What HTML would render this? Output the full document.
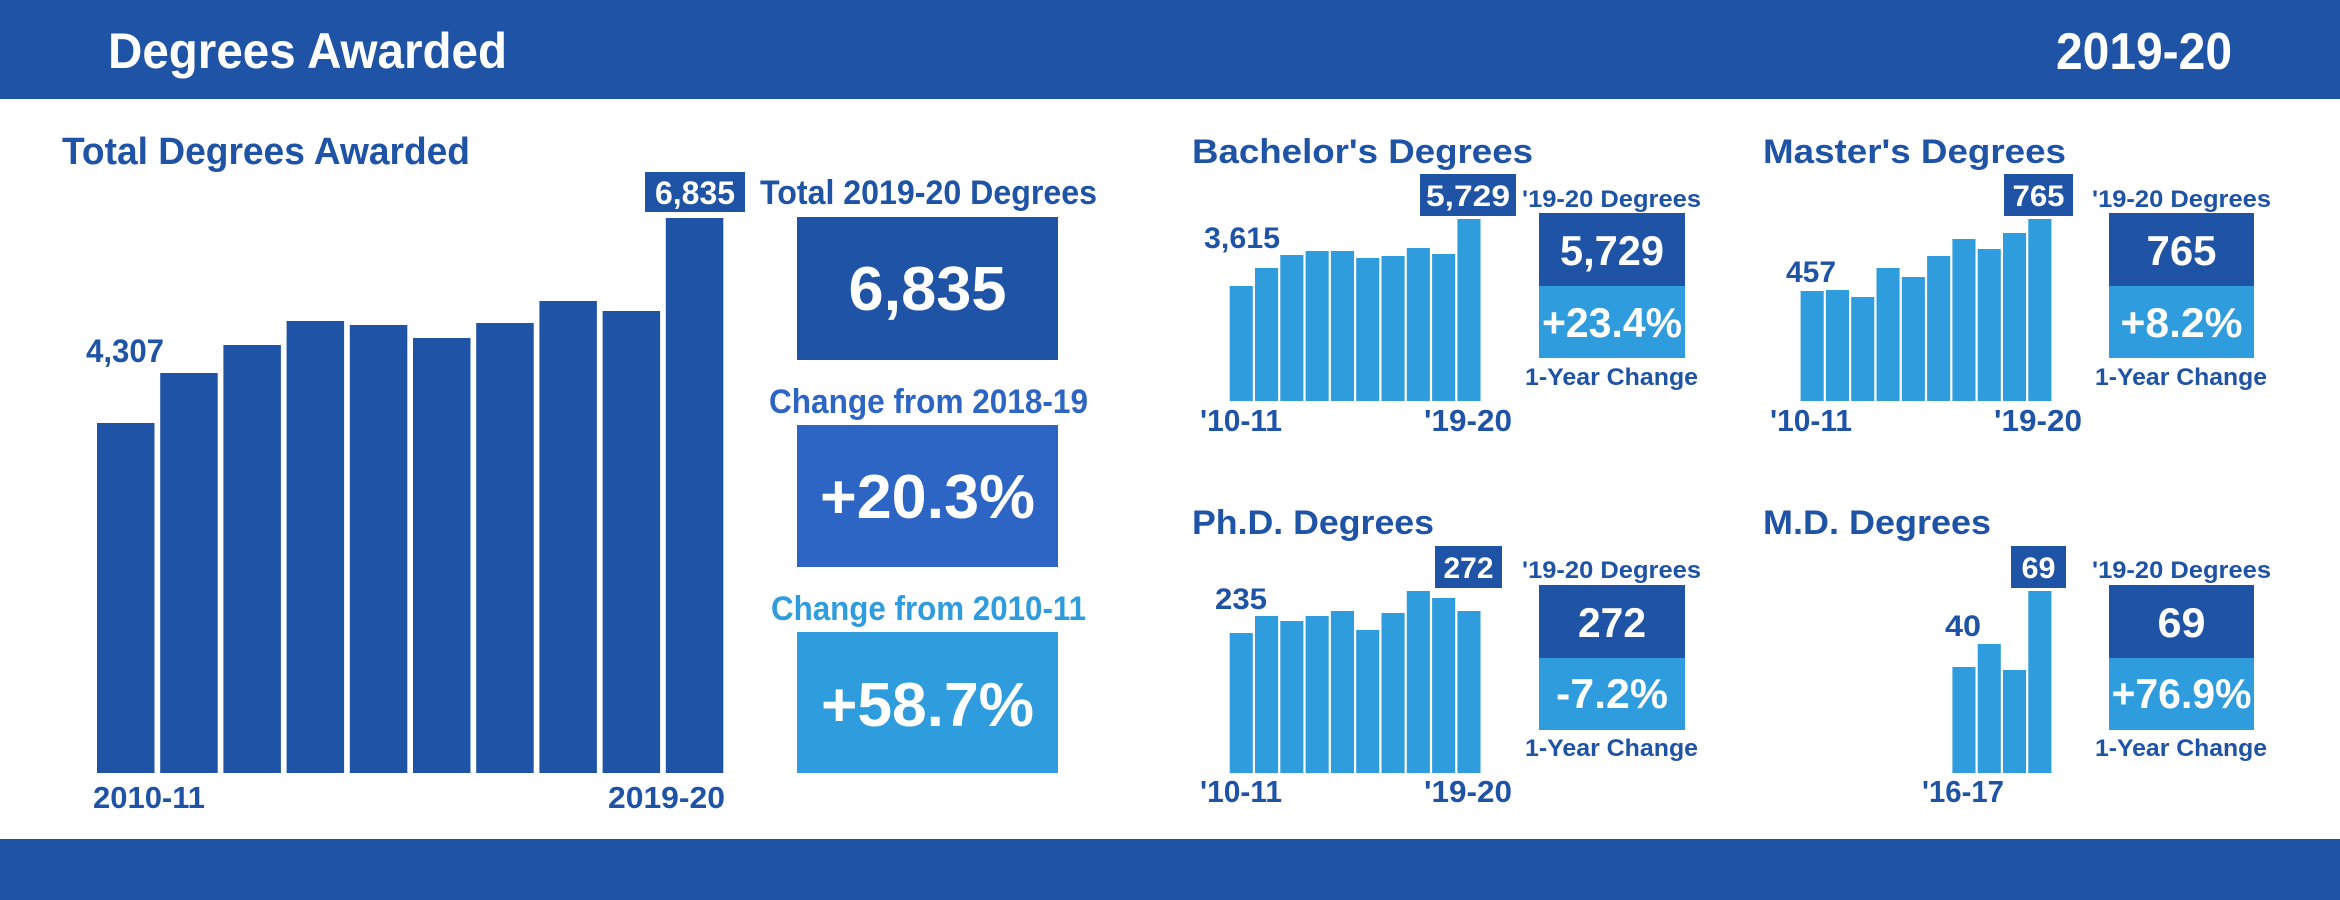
<!DOCTYPE html>
<html><head><meta charset="utf-8"><style>html,body{margin:0;padding:0;background:#fff}svg{display:block}text{font-family:"Liberation Sans",sans-serif;font-weight:bold}</style></head>
<body>
<svg width="2340" height="900" viewBox="0 0 2340 900" xmlns="http://www.w3.org/2000/svg">
<rect x="0" y="0" width="2340" height="99" fill="#1f53a6"/>
<rect x="0" y="839" width="2340" height="61" fill="#1f53a6"/>
<text x="108" y="68" font-size="50" fill="#fff" textLength="399" lengthAdjust="spacingAndGlyphs">Degrees Awarded</text>
<text x="2056" y="69" font-size="52" fill="#fff" textLength="176" lengthAdjust="spacingAndGlyphs">2019-20</text>

<!-- Total chart -->
<text x="62" y="164" font-size="38" fill="#1f53a6" textLength="408" lengthAdjust="spacingAndGlyphs">Total Degrees Awarded</text>
<g fill="#1f53a6">
<rect x="97" y="423" width="57.5" height="350"/>
<rect x="160.2" y="373" width="57.5" height="400"/>
<rect x="223.4" y="345" width="57.5" height="428"/>
<rect x="286.6" y="321" width="57.5" height="452"/>
<rect x="349.8" y="325" width="57.5" height="448"/>
<rect x="413" y="338" width="57.5" height="435"/>
<rect x="476.2" y="323" width="57.5" height="450"/>
<rect x="539.4" y="301" width="57.5" height="472"/>
<rect x="602.6" y="311" width="57.5" height="462"/>
<rect x="665.8" y="218" width="57.5" height="555"/>
<rect x="645" y="172" width="100" height="40"/>
</g>
<text x="86" y="362" font-size="32" fill="#1f53a6" textLength="78" lengthAdjust="spacingAndGlyphs">4,307</text>
<text x="695" y="204" font-size="32" fill="#fff" text-anchor="middle" textLength="80" lengthAdjust="spacingAndGlyphs">6,835</text>
<text x="93" y="808" font-size="31" fill="#1f53a6" textLength="112" lengthAdjust="spacingAndGlyphs">2010-11</text>
<text x="608" y="808" font-size="31" fill="#1f53a6" textLength="117" lengthAdjust="spacingAndGlyphs">2019-20</text>

<text x="760" y="204" font-size="34" fill="#1f53a6" textLength="337" lengthAdjust="spacingAndGlyphs">Total 2019-20 Degrees</text>
<rect x="797" y="217" width="261" height="143" fill="#1f53a6"/>
<text x="927.5" y="310" font-size="62" fill="#fff" text-anchor="middle" textLength="158" lengthAdjust="spacingAndGlyphs">6,835</text>
<text x="769" y="413" font-size="34" fill="#2d65c4" textLength="319" lengthAdjust="spacingAndGlyphs">Change from 2018-19</text>
<rect x="797" y="425" width="261" height="142" fill="#2d65c4"/>
<text x="927.5" y="518" font-size="62" fill="#fff" text-anchor="middle" textLength="215" lengthAdjust="spacingAndGlyphs">+20.3%</text>
<text x="771" y="620" font-size="34" fill="#2f9cdd" textLength="315" lengthAdjust="spacingAndGlyphs">Change from 2010-11</text>
<rect x="797" y="632" width="261" height="141" fill="#2f9cdd"/>
<text x="927.5" y="726" font-size="62" fill="#fff" text-anchor="middle" textLength="213" lengthAdjust="spacingAndGlyphs">+58.7%</text>

<!-- Bachelor -->
<text x="1192" y="163" font-size="34" fill="#1f53a6" textLength="341" lengthAdjust="spacingAndGlyphs">Bachelor's Degrees</text>
<g fill="#2f9cdd">
<rect x="1229.7" y="286" width="23.1" height="115"/>
<rect x="1255" y="268" width="23.1" height="133"/>
<rect x="1280.3" y="255" width="23.1" height="146"/>
<rect x="1305.6" y="251" width="23.1" height="150"/>
<rect x="1330.9" y="251" width="23.1" height="150"/>
<rect x="1356.2" y="258" width="23.1" height="143"/>
<rect x="1381.5" y="256" width="23.1" height="145"/>
<rect x="1406.8" y="248" width="23.1" height="153"/>
<rect x="1432.1" y="254" width="23.1" height="147"/>
<rect x="1457.4" y="219" width="23.1" height="182"/>
</g>
<rect x="1420" y="174" width="96" height="42" fill="#1f53a6"/>
<text x="1468" y="206" font-size="30" fill="#fff" text-anchor="middle" textLength="84" lengthAdjust="spacingAndGlyphs">5,729</text>
<text x="1204" y="248" font-size="30" fill="#1f53a6" textLength="76" lengthAdjust="spacingAndGlyphs">3,615</text>
<text x="1200" y="431" font-size="31" fill="#1f53a6" textLength="82" lengthAdjust="spacingAndGlyphs">'10-11</text>
<text x="1424" y="431" font-size="31" fill="#1f53a6" textLength="88" lengthAdjust="spacingAndGlyphs">'19-20</text>
<text x="1522" y="207" font-size="24" fill="#1f53a6" textLength="179" lengthAdjust="spacingAndGlyphs">'19-20 Degrees</text>
<rect x="1539" y="213" width="146" height="73" fill="#1f53a6"/>
<rect x="1539" y="286" width="146" height="72" fill="#2f9cdd"/>
<text x="1612" y="265" font-size="42" fill="#fff" text-anchor="middle" textLength="104" lengthAdjust="spacingAndGlyphs">5,729</text>
<text x="1612" y="337" font-size="42" fill="#fff" text-anchor="middle" textLength="140" lengthAdjust="spacingAndGlyphs">+23.4%</text>
<text x="1525" y="385" font-size="24" fill="#1f53a6" textLength="173" lengthAdjust="spacingAndGlyphs">1-Year Change</text>

<!-- Master -->
<text x="1763" y="163" font-size="34" fill="#1f53a6" textLength="303" lengthAdjust="spacingAndGlyphs">Master's Degrees</text>
<g fill="#2f9cdd">
<rect x="1800.6" y="291" width="23.1" height="110"/>
<rect x="1825.9" y="290" width="23.1" height="111"/>
<rect x="1851.2" y="297" width="23.1" height="104"/>
<rect x="1876.5" y="268" width="23.1" height="133"/>
<rect x="1901.8" y="277" width="23.1" height="124"/>
<rect x="1927.1" y="256" width="23.1" height="145"/>
<rect x="1952.4" y="239" width="23.1" height="162"/>
<rect x="1977.7" y="249" width="23.1" height="152"/>
<rect x="2003" y="233" width="23.1" height="168"/>
<rect x="2028.3" y="219" width="23.1" height="182"/>
</g>
<rect x="2004" y="174" width="69" height="42" fill="#1f53a6"/>
<text x="2038.5" y="206" font-size="30" fill="#fff" text-anchor="middle" textLength="52" lengthAdjust="spacingAndGlyphs">765</text>
<text x="1786" y="282" font-size="30" fill="#1f53a6" textLength="50" lengthAdjust="spacingAndGlyphs">457</text>
<text x="1770" y="431" font-size="31" fill="#1f53a6" textLength="82" lengthAdjust="spacingAndGlyphs">'10-11</text>
<text x="1994" y="431" font-size="31" fill="#1f53a6" textLength="88" lengthAdjust="spacingAndGlyphs">'19-20</text>
<text x="2092" y="207" font-size="24" fill="#1f53a6" textLength="179" lengthAdjust="spacingAndGlyphs">'19-20 Degrees</text>
<rect x="2109" y="213" width="145" height="73" fill="#1f53a6"/>
<rect x="2109" y="286" width="145" height="72" fill="#2f9cdd"/>
<text x="2181.5" y="265" font-size="42" fill="#fff" text-anchor="middle" textLength="70" lengthAdjust="spacingAndGlyphs">765</text>
<text x="2181.5" y="337" font-size="42" fill="#fff" text-anchor="middle" textLength="122" lengthAdjust="spacingAndGlyphs">+8.2%</text>
<text x="2095" y="385" font-size="24" fill="#1f53a6" textLength="172" lengthAdjust="spacingAndGlyphs">1-Year Change</text>

<!-- PhD -->
<text x="1192" y="534" font-size="34" fill="#1f53a6" textLength="242" lengthAdjust="spacingAndGlyphs">Ph.D. Degrees</text>
<g fill="#2f9cdd">
<rect x="1229.7" y="633" width="23.1" height="140"/>
<rect x="1255" y="616" width="23.1" height="157"/>
<rect x="1280.3" y="621" width="23.1" height="152"/>
<rect x="1305.6" y="616" width="23.1" height="157"/>
<rect x="1330.9" y="611" width="23.1" height="162"/>
<rect x="1356.2" y="630" width="23.1" height="143"/>
<rect x="1381.5" y="613" width="23.1" height="160"/>
<rect x="1406.8" y="591" width="23.1" height="182"/>
<rect x="1432.1" y="598" width="23.1" height="175"/>
<rect x="1457.4" y="611" width="23.1" height="162"/>
</g>
<rect x="1435" y="546" width="67" height="42" fill="#1f53a6"/>
<text x="1468.5" y="578" font-size="30" fill="#fff" text-anchor="middle" textLength="50" lengthAdjust="spacingAndGlyphs">272</text>
<text x="1215" y="609" font-size="30" fill="#1f53a6" textLength="52" lengthAdjust="spacingAndGlyphs">235</text>
<text x="1200" y="802" font-size="31" fill="#1f53a6" textLength="82" lengthAdjust="spacingAndGlyphs">'10-11</text>
<text x="1424" y="802" font-size="31" fill="#1f53a6" textLength="88" lengthAdjust="spacingAndGlyphs">'19-20</text>
<text x="1522" y="578" font-size="24" fill="#1f53a6" textLength="179" lengthAdjust="spacingAndGlyphs">'19-20 Degrees</text>
<rect x="1539" y="585" width="146" height="73" fill="#1f53a6"/>
<rect x="1539" y="658" width="146" height="72" fill="#2f9cdd"/>
<text x="1612" y="637" font-size="42" fill="#fff" text-anchor="middle" textLength="68" lengthAdjust="spacingAndGlyphs">272</text>
<text x="1612" y="708" font-size="42" fill="#fff" text-anchor="middle" textLength="112" lengthAdjust="spacingAndGlyphs">-7.2%</text>
<text x="1525" y="756" font-size="24" fill="#1f53a6" textLength="173" lengthAdjust="spacingAndGlyphs">1-Year Change</text>

<!-- MD -->
<text x="1763" y="534" font-size="34" fill="#1f53a6" textLength="228" lengthAdjust="spacingAndGlyphs">M.D. Degrees</text>
<g fill="#2f9cdd">
<rect x="1952.4" y="667" width="23.1" height="106"/>
<rect x="1977.7" y="644" width="23.1" height="129"/>
<rect x="2003" y="670" width="23.1" height="103"/>
<rect x="2028.3" y="591" width="23.1" height="182"/>
</g>
<rect x="2011" y="546" width="55" height="42" fill="#1f53a6"/>
<text x="2038.5" y="578" font-size="30" fill="#fff" text-anchor="middle" textLength="34" lengthAdjust="spacingAndGlyphs">69</text>
<text x="1945" y="636" font-size="30" fill="#1f53a6" textLength="36" lengthAdjust="spacingAndGlyphs">40</text>
<text x="1922" y="802" font-size="31" fill="#1f53a6" textLength="82" lengthAdjust="spacingAndGlyphs">'16-17</text>
<text x="2092" y="578" font-size="24" fill="#1f53a6" textLength="179" lengthAdjust="spacingAndGlyphs">'19-20 Degrees</text>
<rect x="2109" y="585" width="145" height="73" fill="#1f53a6"/>
<rect x="2109" y="658" width="145" height="72" fill="#2f9cdd"/>
<text x="2181.5" y="637" font-size="42" fill="#fff" text-anchor="middle" textLength="48" lengthAdjust="spacingAndGlyphs">69</text>
<text x="2181.5" y="708" font-size="42" fill="#fff" text-anchor="middle" textLength="140" lengthAdjust="spacingAndGlyphs">+76.9%</text>
<text x="2095" y="756" font-size="24" fill="#1f53a6" textLength="172" lengthAdjust="spacingAndGlyphs">1-Year Change</text>
</svg>
</body></html>
